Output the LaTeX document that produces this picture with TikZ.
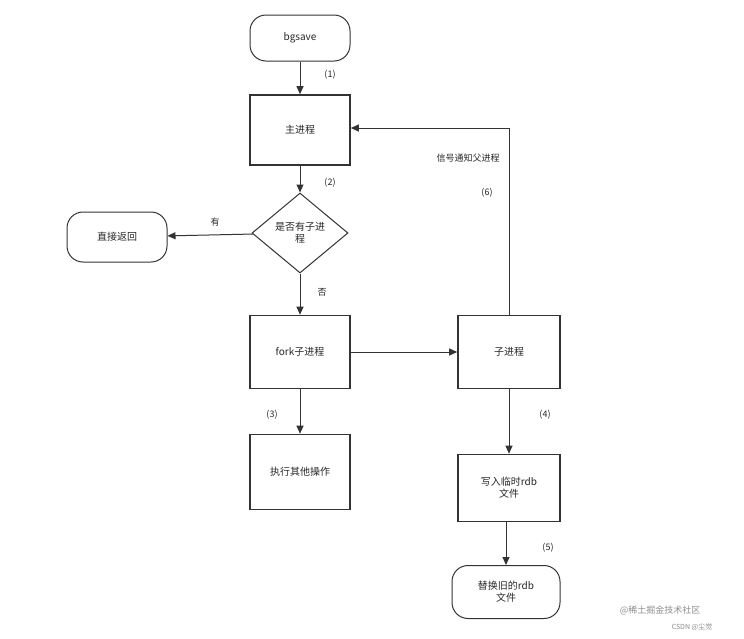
\documentclass[tikz,border=0pt]{standalone}
\usepackage{fontspec}
\setmainfont{Noto Sans CJK SC}
\usetikzlibrary{shapes.geometric,arrows.meta}
\begin{document}
\begin{tikzpicture}[x=1pt,y=-1pt,
  every node/.style={font=\fontsize{10}{12}\selectfont,text=black!85},
  box/.style={draw=black!80,line width=1.6pt,minimum width=100pt,minimum height=70pt,align=center},
  term/.style={draw=black!80,line width=1pt,rounded corners=16pt,minimum width=100pt,minimum height=46pt,align=center},
  dia/.style={draw=black!80,line width=1pt,diamond,aspect=1.2,minimum width=96pt,minimum height=80pt,inner sep=0pt,align=center},
  arr/.style={draw=black!80,line width=1pt,-{Triangle[length=8pt,width=7pt]}},
  lab/.style={font=\fontsize{9}{11}\selectfont}]
\useasboundingbox (0,0) rectangle (744,638);
\node[term] (bg) at (300,38) {bgsave};
\node[box] (main) at (300,130) {主进程};
\node[dia] (q) at (300,233) {是否有子进\\程};
\node[term,minimum height=50pt] (ret) at (117,237) {直接返回};
\node[box,minimum height=73pt] (fork) at (300,352) {fork子进程};
\node[box,minimum width=102pt,minimum height=73pt] (child) at (509,352) {子进程};
\node[box,minimum height=75pt] (other) at (300,472) {执行其他操作};
\node[box,minimum width=102pt,minimum height=67pt] (write) at (509,488) {写入临时rdb\\文件};
\node[term,minimum width=108pt,minimum height=53pt] (rep) at (506,592) {替换旧的rdb\\文件};
\coordinate (c1) at (509,128);
\draw[arr] (bg) -- (main);
\draw[arr] (main) -- (q);
\draw[arr] (q) -- (ret);
\draw[arr] (q) -- (fork);
\draw[arr] (fork) -- (other);
\draw[arr] (fork) -- (child);
\draw[arr] (child) -- (write);
\draw[arr] (write.south -| rep.north) -- (rep);
\draw[arr] (child.north) -- (c1) -- (main.east |- c1);
\node[lab] (l1) at (330,75) {(1)};
\node[lab] (l2) at (330,183) {(2)};
\node[lab] (l3) at (215,222) {有};
\node[lab] (l4) at (322,292) {否};
\node[lab] (l5) at (272,415) {(3)};
\node[lab] (l6) at (545,415) {(4)};
\node[lab] (l7) at (548,548) {(5)};
\node[lab] (l8) at (487,193) {(6)};
\node[lab] (l9) at (468,158) {信号通知父进程};
\node[lab,text=black!45] (w1) at (660,610) {@稀土掘金技术社区};
\node[font=\fontsize{7}{8}\selectfont,text=black!45] (w2) at (692,627) {CSDN @尘觉};
\end{tikzpicture}
\end{document}
